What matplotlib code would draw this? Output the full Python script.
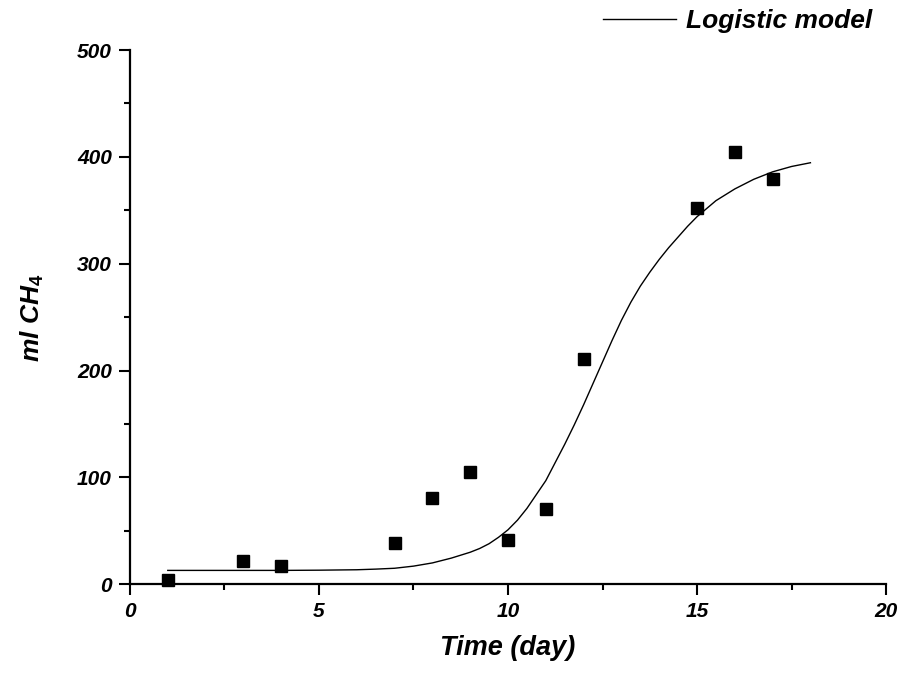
import matplotlib
matplotlib.use("Agg")
import matplotlib.pyplot as plt
from matplotlib.ticker import MultipleLocator

plt.rcParams["font.family"] = ["Liberation Sans", "DejaVu Sans"]
plt.rcParams["mathtext.fontset"] = "custom"
plt.rcParams["mathtext.it"] = "Liberation Sans:italic:bold"
plt.rcParams["mathtext.rm"] = "Liberation Sans:bold"

# Measured methane production
days = [1, 3, 4, 7, 8, 9, 10, 11, 12, 15, 16, 17]
methane_ml = [4, 22, 17, 39, 81, 105, 41, 70, 211, 352, 405, 379]

# Fitted logistic model
model_days = [1, 2, 3, 4, 5, 6, 6.5, 7, 7.5, 8, 8.5, 9, 9.25, 9.5, 9.75,
              10, 10.25, 10.5, 10.75, 11, 11.25, 11.5, 11.75, 12, 12.25,
              12.5, 12.75, 13, 13.25, 13.5, 13.75, 14, 14.25, 14.5, 14.75,
              15, 15.5, 16, 16.5, 17, 17.5, 18]
model_ml = [13, 13, 13, 13, 13.2, 13.6, 14.2, 15, 17, 20, 24.5, 30, 33.5,
            38, 44, 51, 60, 71, 84, 97, 114, 131, 149, 168, 188,
            208, 228, 247, 264, 279, 292, 304, 315, 325, 335,
            344, 359, 370, 379, 386, 391, 394.5]

fig = plt.figure(figsize=(9.02, 6.74), dpi=100)
ax = fig.add_axes([0.1441, 0.1331, 0.8382, 0.7927])

ax.plot(days, methane_ml, linestyle="none", marker="s", markersize=8,
        color="black", clip_on=False, zorder=3)
line, = ax.plot(model_days, model_ml, color="black", linewidth=1.0,
                label="Logistic model")

ax.set_xlim(0, 20)
ax.set_ylim(0, 500)
ax.xaxis.set_major_locator(MultipleLocator(5))
ax.xaxis.set_minor_locator(MultipleLocator(2.5))
ax.yaxis.set_major_locator(MultipleLocator(100))
ax.yaxis.set_minor_locator(MultipleLocator(50))

for side in ("top", "right"):
    ax.spines[side].set_visible(False)
for side in ("left", "bottom"):
    ax.spines[side].set_linewidth(1.6)

ax.tick_params(which="major", direction="out", length=8, width=1.5,
               labelsize=15, pad=5)
ax.tick_params(which="minor", direction="out", length=4, width=1.5)
for lbl in ax.get_xticklabels() + ax.get_yticklabels():
    lbl.set_fontweight("bold")
    lbl.set_fontstyle("italic")

ax.set_xlabel("Time (day)", fontsize=19.5, fontweight="bold",
              fontstyle="italic", labelpad=10)
ax.set_ylabel(r"$\mathit{ml\ CH_4}$", fontsize=19, labelpad=22)

leg = fig.legend(handles=[line], loc="upper right",
                 bbox_to_anchor=(0.993, 1.022), frameon=False,
                 prop={"size": 19, "weight": "bold", "style": "italic"},
                 handlelength=2.8, handletextpad=0.35)

fig.savefig("out.png", dpi=100)
